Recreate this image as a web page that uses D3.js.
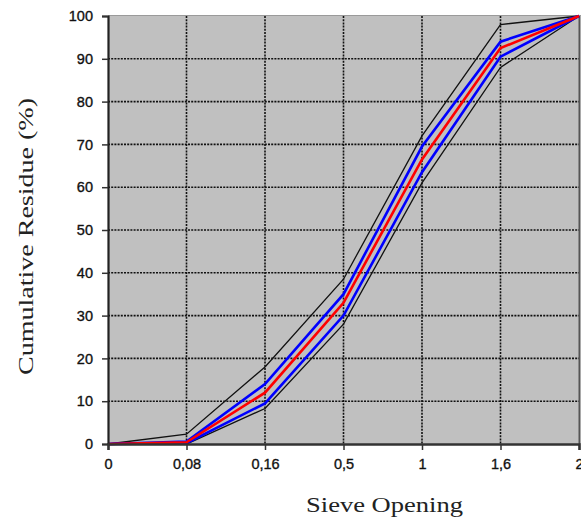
<!DOCTYPE html>
<html>
<head>
<meta charset="utf-8">
<script src="https://cdn.jsdelivr.net/npm/d3@7"></script>
<style>
  html, body { margin: 0; padding: 0; background: #fff; }
  svg { display: block; }
</style>
</head>
<body>
<svg id="chart" width="581" height="520"></svg>
<script>
// Sieve openings (category labels along the x axis)
const sieves = ["0", "0,08", "0,16", "0,5", "1", "1,6", "2"];
const yTicks = [0, 10, 20, 30, 40, 50, 60, 70, 80, 90, 100];

// Cumulative residue (%) per sieve for each curve
const upperLimit = [0, 2.3, 18, 38.5, 72, 98, 100];
const upperBlue  = [0, 0.6, 14, 35, 69.5, 94, 100];
const mean       = [0, 0.4, 12, 33, 66.5, 92.5, 100];
const lowerBlue  = [0, 0.2, 9.5, 30, 63.5, 90.5, 100];
const lowerLimit = [0, 0, 8.3, 28, 61, 88, 100];

const svg = d3.select("#chart");
const plotLeft = 108, plotRight = 579, plotTop = 16, plotBottom = 444;

const x = d3.scalePoint().domain(sieves).range([plotLeft, plotRight]);
const y = d3.scaleLinear().domain([0, 100]).range([plotBottom, plotTop]);

// plot background
svg.append("rect")
  .attr("x", plotLeft).attr("y", plotTop)
  .attr("width", plotRight - plotLeft).attr("height", plotBottom - plotTop)
  .attr("fill", "#c0c0c0");

// top border
svg.append("line")
  .attr("x1", plotLeft).attr("x2", plotRight + 2)
  .attr("y1", plotTop - 0.5).attr("y2", plotTop - 0.5)
  .attr("stroke", "#9a9a9a").attr("stroke-width", 1);

// dotted grid
const grid = svg.append("g")
  .attr("stroke", "#111").attr("stroke-width", 1.6)
  .attr("stroke-dasharray", "2,1.2");
grid.selectAll("line.h")
  .data(yTicks.filter(d => d > 0 && d < 100))
  .join("line")
  .attr("class", "h")
  .attr("x1", plotLeft).attr("x2", plotRight)
  .attr("y1", d => y(d)).attr("y2", d => y(d));
grid.selectAll("line.v")
  .data(sieves.slice(1, -1))
  .join("line")
  .attr("class", "v")
  .attr("x1", d => x(d)).attr("x2", d => x(d))
  .attr("y1", plotTop).attr("y2", plotBottom);

// right border
svg.append("line")
  .attr("x1", plotRight + 0.5).attr("x2", plotRight + 0.5)
  .attr("y1", plotTop).attr("y2", plotBottom)
  .attr("stroke", "#555").attr("stroke-width", 2);

// curves
const line = d3.line()
  .x((d, i) => x(sieves[i]))
  .y(d => y(d));

const series = [
  { values: upperLimit, color: "#111", width: 1.3 },
  { values: lowerLimit, color: "#111", width: 1.3 },
  { values: upperBlue,  color: "#0000ff", width: 2.6 },
  { values: lowerBlue,  color: "#0000ff", width: 2.6 },
  { values: mean,       color: "#ff0000", width: 2.6 }
];
svg.append("g").selectAll("path")
  .data(series)
  .join("path")
  .attr("d", d => line(d.values))
  .attr("fill", "none")
  .attr("stroke", d => d.color)
  .attr("stroke-width", d => d.width)
  .attr("stroke-linejoin", "miter");

const tickFont = "'Liberation Sans', Arial, sans-serif";

// y axis
const yAxis = svg.append("g")
  .attr("transform", `translate(${plotLeft},0)`)
  .call(d3.axisLeft(y).tickValues(yTicks).tickSize(6).tickPadding(9).tickFormat(d3.format("d")));
yAxis.select(".domain").attr("stroke", "#222").attr("stroke-width", 2.2);
yAxis.selectAll(".tick line").attr("stroke", "#333").attr("stroke-width", 1.5);
yAxis.selectAll("text")
  .attr("font-family", tickFont)
  .attr("font-size", 14.5).attr("fill", "#111")
  .attr("stroke", "#111").attr("stroke-width", 0.35);

// x axis
const xAxis = svg.append("g")
  .attr("transform", `translate(0,${plotBottom})`)
  .call(d3.axisBottom(x).tickSize(6).tickPadding(9));
xAxis.select(".domain").attr("stroke", "#333").attr("stroke-width", 2.5);
xAxis.selectAll(".tick line").attr("stroke", "#333").attr("stroke-width", 1.5);
xAxis.selectAll("text")
  .attr("font-family", tickFont)
  .attr("font-size", 14.5).attr("fill", "#111")
  .attr("stroke", "#111").attr("stroke-width", 0.35);

// axis titles
const titleFont = "'Liberation Serif', 'Times New Roman', serif";
svg.append("text")
  .attr("x", 306).attr("y", 512)
  .attr("textLength", 157).attr("lengthAdjust", "spacingAndGlyphs")
  .attr("font-family", titleFont)
  .attr("font-size", 21).attr("fill", "#222")
  .text("Sieve Opening");

svg.append("text")
  .attr("transform", "translate(33,375) rotate(-90)")
  .attr("textLength", 277).attr("lengthAdjust", "spacingAndGlyphs")
  .attr("font-family", titleFont)
  .attr("font-size", 21).attr("fill", "#222")
  .text("Cumulative Residue (%)");
</script>
</body>
</html>
